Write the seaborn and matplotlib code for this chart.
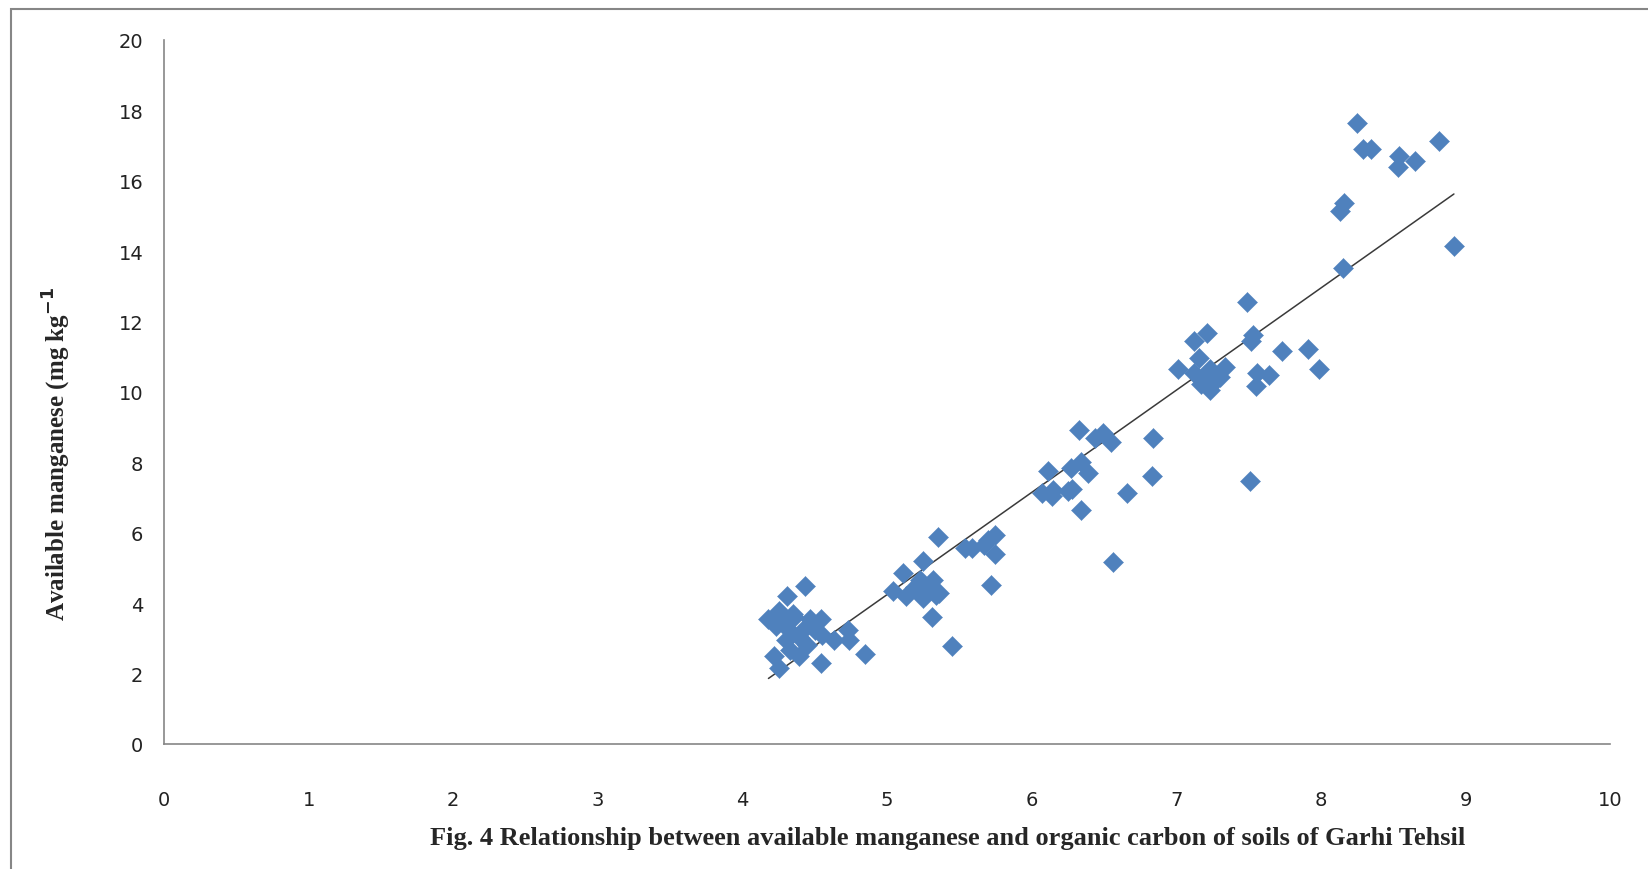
# Available manganese vs organic carbon - scatter with linear trend
import numpy as np
import pandas as pd
import matplotlib
matplotlib.use("Agg")
import matplotlib.pyplot as plt
import seaborn as sns
from matplotlib.patches import Rectangle

# organic carbon (x) and available manganese (y)
organic_carbon = [
    4.18, 4.23, 4.25, 4.22, 4.25, 4.31, 4.43, 4.36, 4.32, 4.30, 4.33, 4.39,
    4.43, 4.47, 4.50, 4.54, 4.55, 4.54, 4.63, 4.73, 4.74, 4.85, 4.35, 4.40,
    4.28, 4.45,
    5.04, 5.11, 5.13, 5.19, 5.23, 5.25, 5.25, 5.28, 5.32, 5.31, 5.34, 5.36,
    5.35, 5.45, 5.54, 5.59, 5.67, 5.70, 5.75, 5.75, 5.72,
    6.07, 6.11, 6.14, 6.15, 6.25, 6.28, 6.27, 6.34, 6.33, 6.34, 6.39, 6.44,
    6.49, 6.55, 6.56, 6.66, 6.84, 6.83,
    7.01, 7.12, 7.12, 7.16, 7.17, 7.21, 7.20, 7.23, 7.23, 7.26, 7.30, 7.34,
    7.49, 7.52, 7.53, 7.51, 7.56, 7.55, 7.64, 7.73, 7.91, 7.99,
    8.15, 8.13, 8.16, 8.25, 8.29, 8.35, 8.54, 8.53, 8.65, 8.82, 8.92,
]
available_mn = [
    3.55, 3.34, 3.79, 2.50, 2.15, 4.20, 4.48, 3.60, 3.25, 2.95, 2.66, 2.50,
    3.30, 3.55, 3.25, 3.55, 3.10, 2.30, 2.95, 3.25, 2.95, 2.57, 3.69, 3.00,
    3.45, 2.80,
    4.36, 4.87, 4.21, 4.45, 4.66, 5.19, 4.15, 4.39, 4.66, 3.61, 4.24, 4.30,
    5.88, 2.78, 5.58, 5.58, 5.64, 5.79, 5.94, 5.40, 4.51,
    7.13, 7.76, 7.04, 7.22, 7.19, 7.25, 7.85, 8.00, 8.93, 6.66, 7.70, 8.69,
    8.84, 8.57, 5.16, 7.13, 8.69, 7.61,
    10.66, 11.46, 10.54, 10.96, 10.24, 11.67, 10.48, 10.66, 10.06, 10.27,
    10.42, 10.72, 12.57, 11.46, 11.61, 7.46, 10.54, 10.18, 10.48, 11.16,
    11.22, 10.66,
    13.52, 15.13, 15.37, 17.64, 16.90, 16.90, 16.69, 16.39, 16.57, 17.13,
    14.15,
]

x_ticks = list(range(0, 11))
y_ticks = list(range(0, 21, 2))

df = pd.DataFrame({"oc": organic_carbon, "mn": available_mn})

sns.set_style("white")
plt.rcParams["font.family"] = ["DejaVu Sans"]

fig = plt.figure(figsize=(16.48, 8.70), dpi=100)
ax = fig.add_axes([0.0995, 0.1437, 0.8775, 0.8092])

sns.regplot(data=df, x="oc", y="mn", scatter=False, ci=None, truncate=True,
            line_kws=dict(color="#3a3a3a", linewidth=1.1), ax=ax)
sns.scatterplot(data=df, x="oc", y="mn", marker="D", s=105,
                color="#4F81BD", edgecolor="#4F81BD", linewidth=0.3,
                ax=ax, zorder=3)

ax.set_xlim(0, 10)
ax.set_ylim(0, 20)
ax.set_xticks(x_ticks)
ax.set_yticks(y_ticks)
ax.tick_params(axis="both", labelsize=14, colors="#868686",
               labelcolor="#222222", length=7, width=1, direction="out")
ax.tick_params(axis="x", pad=26)
ax.tick_params(axis="y", pad=8)

for side in ["top", "right"]:
    ax.spines[side].set_visible(False)
for side in ["left", "bottom"]:
    ax.spines[side].set_color("#868686")
    ax.spines[side].set_linewidth(1.2)

ax.set_xlabel("")
ax.set_ylabel("Available manganese (mg kg$^{\\mathbf{-1}}$",
              fontsize=18, fontweight="bold", family="Liberation Serif")
ax.yaxis.set_label_coords(-0.063, 0.413)

fig.text(0.575, 0.036,
         "Fig. 4 Relationship between available manganese and organic carbon of soils of Garhi Tehsil",
         ha="center", va="center", fontsize=19, fontweight="bold",
         family="Liberation Serif")

# chart-area frame
fig.patches.append(Rectangle((0.0065, -0.05), 1.2, 1.038,
                             transform=fig.transFigure, fill=False,
                             edgecolor="#868686", linewidth=1.5))

fig.savefig("out.png", dpi=100)
